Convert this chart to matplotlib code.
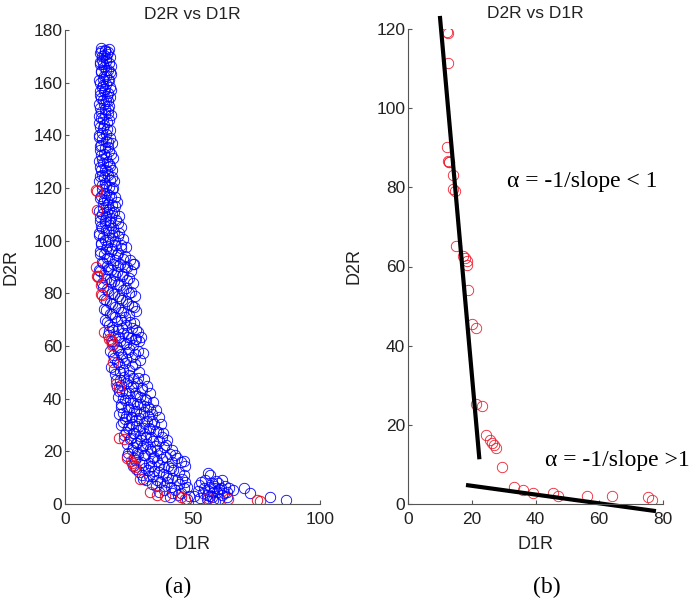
import numpy as np
import matplotlib.pyplot as plt

# all points (blue) - D1R, D2R
blueD1R = [14.0, 15.5, 17.0, 14.5, 16.2, 13.8, 15.0, 17.3, 16.0, 14.2, 17.8, 15.3, 13.5, 16.8, 14.8, 17.5,
           15.8, 13.6, 16.3, 14.3, 17.0, 15.1, 13.9, 16.7, 15.6, 14.1, 17.4, 13.4, 15.4, 16.6, 14.6, 13.2,
           17.8, 15.9, 14.0, 16.9, 13.6, 15.2, 18.2, 14.4, 16.4, 17.8, 13.8, 15.5, 14.5, 16.9, 18.5, 13.4,
           15.8, 17.3, 14.7, 19.0, 16.2, 14.0, 18.0, 15.3, 17.0, 19.5, 14.8, 16.5, 18.3, 13.6, 15.7, 20.0,
           17.6, 14.3, 19.0, 16.1, 21.0, 13.5, 15.0, 17.8, 19.8, 14.2, 16.6, 22.0, 18.6, 13.8, 20.8, 15.4,
           17.2, 23.5, 19.5, 14.6, 21.5, 16.3, 24.5, 18.2, 26.5, 13.2, 20.2, 22.8, 15.3, 17.5, 25.0, 19.2,
           14.5, 21.6, 23.8, 16.5, 18.6, 26.0, 20.7, 15.4, 22.5, 17.6, 24.8, 19.8, 27.2, 16.2, 21.8, 18.4,
           23.7, 15.6, 20.2, 25.6, 17.2, 22.4, 19.0, 27.8, 24.2, 16.8, 21.0, 26.0, 18.6, 23.2, 29.0, 28.0,
           20.2, 25.0, 17.8, 22.0, 27.5, 19.4, 24.0, 21.2, 18.2, 26.2, 22.8, 19.8, 25.0, 28.5, 21.5, 23.8,
           20.2, 26.8, 30.0, 22.5, 25.2, 28.2, 20.8, 31.5, 23.6, 26.5, 29.5, 22.0, 32.5, 25.0, 27.8, 30.8,
           21.2, 34.0, 23.8, 26.4, 29.0, 32.0, 22.6, 35.0, 25.2, 28.0, 30.6, 33.5, 24.0, 26.8, 36.5, 29.5,
           31.8, 38.0, 25.5, 34.5, 28.2, 39.5, 30.6, 26.5, 33.2, 36.2, 24.8, 28.8, 41.0, 31.2, 35.0, 27.0,
           38.0, 44.0, 46.5, 29.8, 33.0, 36.8, 40.5, 26.8, 31.5, 42.5, 35.0, 29.0, 38.5, 46.5, 33.0, 40.5,
           30.5, 36.2, 44.0, 47.0, 34.0, 38.8, 41.5, 46.5, 53.5, 57.0, 54.5, 56.5, 58.5, 60.0, 55.5, 57.5,
           59.5, 61.0, 62.5, 58.0, 60.5, 64.5, 63.5, 70.0, 72.5, 80.5, 86.5, 50.5, 48.0, 44.5, 42.0, 52.0,
           61.5]
blueD2R = [172.0, 172.0, 171.5, 170.0, 169.5, 168.0, 167.0, 167.5, 165.0, 164.5, 164.0, 162.5, 161.0, 161.0, 159.0, 158.5,
           157.5, 157.0, 155.0, 154.0, 153.0, 152.0, 150.5, 150.0, 148.0, 146.5, 146.0, 144.5, 144.0, 142.5, 141.0, 139.5,
           139.0, 138.0, 136.5, 135.5, 134.5, 133.0, 133.0, 131.0, 130.0, 128.5, 128.0, 127.0, 125.0, 125.0, 124.0, 122.5,
           122.0, 120.5, 119.5, 120.0, 118.0, 117.0, 116.5, 115.5, 114.0, 113.0, 112.5, 111.0, 110.5, 109.0, 108.0, 108.0,
           107.0, 105.5, 105.0, 104.0, 103.0, 103.0, 101.5, 101.0, 100.0, 99.0, 98.0, 98.5, 97.0, 96.0, 95.5, 95.0,
           93.5, 94.0, 92.5, 92.0, 91.0, 90.5, 90.0, 89.0, 91.0, 89.0, 88.0, 87.5, 87.0, 85.5, 86.0, 84.5,
           84.0, 83.0, 82.0, 81.5, 80.0, 80.5, 79.0, 78.0, 77.5, 76.5, 76.0, 75.0, 75.0, 73.5, 73.0, 72.0,
           71.0, 70.0, 69.5, 69.0, 68.0, 67.0, 66.0, 66.0, 65.0, 64.0, 63.5, 63.0, 62.0, 61.0, 62.0, 62.5,
           59.5, 59.0, 58.0, 57.0, 57.0, 55.5, 55.0, 53.0, 52.0, 52.5, 51.0, 49.5, 49.0, 48.0, 47.0, 46.0,
           44.5, 45.0, 44.0, 43.0, 42.0, 41.0, 40.5, 40.0, 39.5, 38.5, 38.0, 37.0, 37.0, 36.0, 35.5, 35.0,
           34.0, 34.0, 33.5, 33.0, 32.5, 31.5, 31.0, 30.5, 30.0, 29.5, 29.0, 28.5, 27.5, 27.0, 27.5, 26.0,
           25.5, 25.5, 24.5, 24.0, 23.0, 22.5, 22.0, 21.5, 21.0, 20.5, 19.5, 19.0, 19.0, 18.5, 18.0, 17.5,
           17.0, 17.5, 16.5, 16.0, 15.5, 15.0, 14.5, 14.5, 13.5, 13.0, 12.5, 12.0, 11.5, 11.0, 10.5, 10.0,
           9.5, 9.0, 9.0, 8.5, 7.5, 7.0, 6.5, 6.0, 8.5, 11.0, 6.0, 5.0, 7.0, 8.0, 3.5, 2.5,
           4.5, 6.0, 4.0, 1.5, 2.0, 6.0, 2.5, 6.0, 4.0, 2.5, 1.5, 3.0, 2.0, 3.5, 4.0, 5.0,
           9.0]

# more blue points, (D1R, D2R) pairs by region of the curve
blueUpper = [(14.2, 173), (15.8, 172.5), (17.1, 172.8), (13.9, 171.2), (16.5, 171), (15.1, 170.4), (17.6, 169.8),
             (14.6, 168.6), (16.0, 168.2), (13.7, 166.9), (17.9, 166.5), (15.4, 165.8), (16.9, 164.8), (14.0, 163.9),
             (18.1, 163.2), (15.9, 162.7), (14.9, 161.5), (17.2, 160.9), (13.6, 159.8), (16.2, 159.6), (14.5, 158.2),
             (18.0, 157.3), (15.2, 156.8), (16.7, 156.1), (13.9, 155.2), (17.8, 154.6), (14.8, 153.4), (16.0, 152.9),
             (13.5, 151.8), (17.4, 151.2), (15.5, 149.9), (14.2, 148.8), (16.9, 148.3), (13.3, 147.2), (18.2, 147.6),
             (15.0, 146.1), (16.3, 145.1), (13.8, 143.2), (14.9, 142.6), (17.6, 142.0), (15.9, 140.5), (13.4, 140.2),
             (14.6, 138.7), (16.8, 137.6), (18.6, 136.9), (13.9, 135.8), (15.6, 135.1), (17.3, 134.2), (14.3, 132.7),
             (16.1, 131.8), (18.9, 131.5), (13.5, 130.4), (15.0, 129.6), (17.1, 129.1), (14.1, 127.0), (16.3, 126.3),
             (18.4, 126.8), (15.2, 124.2), (13.6, 124.6), (17.6, 123.1), (19.3, 122.8), (14.4, 121.3), (16.0, 120.6),
             (18.3, 119.6), (15.4, 118.1), (17.1, 117.4), (13.9, 116.2), (19.6, 116.4), (16.4, 115.3), (14.9, 114.2),
             (18.6, 113.6), (20.3, 114.8), (15.9, 112.6)]
blueMiddle = [(13.4, 111.4), (17.3, 111.9), (19.4, 110.8), (14.7, 110.1), (16.2, 109.4), (21.2, 109.5), (18.2, 108.6),
              (13.8, 107.4), (15.5, 106.8), (17.5, 106.1), (20.6, 106.6), (22.1, 105.3), (14.6, 104.7), (16.8, 103.9),
              (19.2, 103.3), (13.3, 102.2), (18.4, 102.0), (20.8, 101.6), (15.7, 100.4), (22.8, 100.7), (17.0, 99.6),
              (14.0, 98.6), (19.8, 98.3), (21.8, 97.2), (15.9, 97.0), (24.0, 97.6), (18.0, 95.9), (13.6, 94.8),
              (20.4, 94.4), (16.6, 93.6), (22.6, 93.0), (25.3, 92.8), (14.9, 91.4), (18.8, 91.2), (20.9, 90.2),
              (23.6, 89.9), (27.2, 91.3), (16.9, 89.3), (25.8, 88.4), (13.9, 88.3),
              (19.6, 87.1), (22.2, 86.4), (15.9, 85.3), (24.3, 85.0), (18.1, 84.2), (26.6, 84.0), (20.6, 83.4),
              (14.8, 82.3), (22.9, 81.4), (17.0, 80.8), (25.2, 80.2), (19.2, 79.6), (27.4, 79.0), (21.5, 78.2),
              (16.0, 77.3), (23.9, 77.0), (18.5, 75.8), (26.3, 75.3), (20.9, 74.6), (15.3, 74.0), (28.0, 73.2),
              (22.9, 72.9), (17.5, 72.2), (25.0, 71.6), (19.5, 70.9), (21.9, 69.8), (16.6, 69.0), (27.0, 68.6),
              (24.1, 68.1), (18.4, 67.3), (20.7, 66.4), (26.2, 66.8), (28.8, 65.4), (17.1, 65.6), (22.6, 64.8),
              (19.7, 63.7), (24.9, 63.6), (27.3, 62.8), (29.7, 63.4), (21.4, 61.9), (18.9, 60.8), (23.8, 60.6),
              (26.7, 60.3)]
blueLower = [(20.6, 58.6), (24.6, 57.8), (28.6, 58.2), (30.6, 57.5), (18.8, 56.6), (22.4, 56.0), (26.4, 55.7),
             (29.5, 54.8), (20.2, 54.0), (23.4, 53.4), (27.6, 53.0), (19.1, 51.3), (25.1, 50.8), (21.6, 50.2),
             (29.0, 50.3), (23.1, 48.4), (26.7, 48.0), (31.0, 47.4), (20.0, 47.0), (24.6, 46.6), (28.2, 45.9),
             (22.0, 45.3), (32.2, 45.0), (26.0, 44.3), (30.1, 43.4), (21.3, 42.8), (24.0, 42.2), (27.4, 42.0),
             (33.5, 42.2), (29.3, 40.7), (22.9, 40.1), (31.8, 39.6), (25.6, 39.4), (34.6, 38.9), (28.2, 38.0),
             (21.9, 37.8), (30.8, 37.1), (24.6, 36.8), (33.3, 36.2), (27.0, 35.4), (35.8, 35.6),
             (22.6, 34.7), (29.6, 34.3), (32.4, 33.6), (25.8, 33.2), (36.8, 33.0), (23.5, 32.2), (28.0, 31.8),
             (34.1, 31.4), (30.8, 30.6), (26.4, 30.2), (37.6, 30.4), (21.8, 29.9), (32.9, 29.0), (24.6, 28.7),
             (29.0, 28.2), (35.8, 27.9), (27.2, 26.8), (31.4, 26.4), (23.2, 26.2), (38.6, 26.9), (33.8, 25.4),
             (25.9, 25.0), (29.9, 24.4), (36.9, 24.0), (40.0, 24.2), (27.8, 23.2), (32.3, 22.9), (24.2, 22.6),
             (35.3, 22.0), (38.8, 21.8), (30.2, 21.2), (26.2, 20.6), (33.8, 20.0), (41.8, 20.4), (28.2, 19.6),
             (37.2, 19.3), (31.0, 18.5), (24.4, 18.2), (39.8, 18.0), (34.6, 17.3), (43.3, 18.6)]
blueTail = [(27.6, 16.6), (36.0, 16.4), (42.0, 16.1), (45.4, 15.8), (30.4, 15.0), (33.9, 14.6), (38.9, 14.0),
            (28.0, 13.4), (41.5, 13.6), (47.2, 14.4), (32.4, 12.8), (36.8, 12.2), (44.6, 12.0), (30.0, 11.2),
            (39.6, 11.0), (34.7, 10.6), (42.0, 9.8), (46.0, 9.5), (31.8, 9.1), (37.4, 8.5), (40.0, 8.2),
            (44.8, 7.6), (35.5, 6.8), (47.8, 6.4), (39.0, 5.5), (43.0, 5.2), (37.0, 4.5), (45.5, 4.3),
            (48.8, 3.0), (41.0, 2.5),
            (52.5, 7.4), (55.0, 9.2), (56.8, 6.6), (58.2, 4.4), (59.4, 8.6), (54.0, 4.2), (57.0, 3.0),
            (60.2, 5.6), (61.6, 3.6), (62.8, 7.0), (55.8, 1.8), (59.0, 1.2), (63.5, 4.6), (65.8, 5.3),
            (53.0, 2.2), (56.2, 11.6), (58.5, 6.0), (57.6, 8.0)]

# selected points (red)
redD1R = [12.1, 12.7, 12.4, 12.3, 12.5, 13.0, 12.8, 14.2, 14.2, 14.7, 15.1, 17.4, 17.9, 18.4, 18.5, 18.9,
          20.0, 21.3, 21.2, 23.3, 24.5, 25.7, 26.3, 27.0, 27.6, 29.4, 33.3, 36.0, 39.3, 45.4, 47.2, 56.1,
          63.9, 75.2, 76.4]
redD2R = [119.3, 118.9, 111.5, 90.1, 86.7, 86.5, 86.3, 83.1, 79.7, 79.2, 65.3, 62.7, 62.2, 61.5, 60.4, 54.1,
          45.4, 44.4, 25.2, 24.8, 17.4, 16.2, 15.5, 14.9, 14.1, 9.4, 4.4, 3.5, 2.9, 2.7, 1.9, 2.1,
          1.9, 1.7, 1.0]

# fitted lines (endpoints)
steepD1R = [10.0, 22.4]
steepD2R = [123.3, 11.3]
flatD1R = [18.2, 77.8]
flatD2R = [4.8, -1.8]

sansFont = 'Liberation Sans'
serifFont = 'Liberation Serif'
axisGray = '#555555'
textColor = '#222222'


def styleAxes(ax, xlim, ylim, xticks, yticks):
    ax.set_xlim(xlim)
    ax.set_ylim(ylim)
    ax.set_xticks(xticks)
    ax.set_yticks(yticks)
    for side in ['top', 'right']:
        ax.spines[side].set_visible(False)
    for side in ['left', 'bottom']:
        ax.spines[side].set_color(axisGray)
        ax.spines[side].set_linewidth(0.8)
    ax.tick_params(direction='in', length=3, width=0.8, color=axisGray,
                   labelsize=12.5, labelcolor=textColor)
    ax.tick_params(axis='x', pad=6)
    ax.tick_params(axis='y', pad=2)
    for lbl in ax.get_xticklabels() + ax.get_yticklabels():
        lbl.set_fontfamily(sansFont)
    ax.set_xlabel('D1R', fontsize=13, family=sansFont, color=textColor, labelpad=6)
    ax.set_ylabel('D2R', fontsize=13, family=sansFont, color=textColor, labelpad=10)
    ax.set_title('D2R vs D1R', fontsize=12.5, family=sansFont, color=textColor, pad=8)


allBlue = blueUpper + blueMiddle + blueLower + blueTail
extraD1R = [p[0] for p in allBlue]
extraD2R = [p[1] for p in allBlue]

fig = plt.figure(figsize=(7, 6.01), dpi=100)
ax1 = fig.add_axes([65 / 700, 97 / 601, 255 / 700, 474 / 601])
ax2 = fig.add_axes([408 / 700, 97 / 601, 255 / 700, 475 / 601])

ax1.plot(blueD1R + extraD1R, blueD2R + extraD2R, 'o', mfc='none', mec='blue', ms=7.5, mew=0.6)
ax1.plot(redD1R, redD2R, 'o', mfc='none', mec='#e8102a', ms=7.5, mew=0.7)
styleAxes(ax1, (0, 100), (0, 180), [0, 50, 100], [0, 20, 40, 60, 80, 100, 120, 140, 160, 180])

ax2.plot(redD1R, redD2R, 'o', mfc='none', mec='#ee2030', ms=7.5, mew=0.6)
ax2.plot(steepD1R, steepD2R, 'k-', lw=3, clip_on=False, solid_capstyle='butt')
ax2.plot(flatD1R, flatD2R, 'k-', lw=3, clip_on=False, solid_capstyle='butt')
styleAxes(ax2, (0, 80), (0, 120), [0, 20, 40, 60, 80], [0, 20, 40, 60, 80, 100, 120])

ax2.text(31.1, 81.6, '\u03b1 = -1/slope < 1', fontsize=17, family=serifFont, va='center', ha='left')
ax2.text(43.0, 11.1, '\u03b1 = -1/slope >1', fontsize=17, family=serifFont, va='center', ha='left',
         clip_on=False)

fig.text(178 / 700, 1 - 587 / 601, '(a)', fontsize=17, family=serifFont, ha='center', va='center')
fig.text(547 / 700, 1 - 587 / 601, '(b)', fontsize=17, family=serifFont, ha='center', va='center')

plt.savefig('out.png', dpi=100)
